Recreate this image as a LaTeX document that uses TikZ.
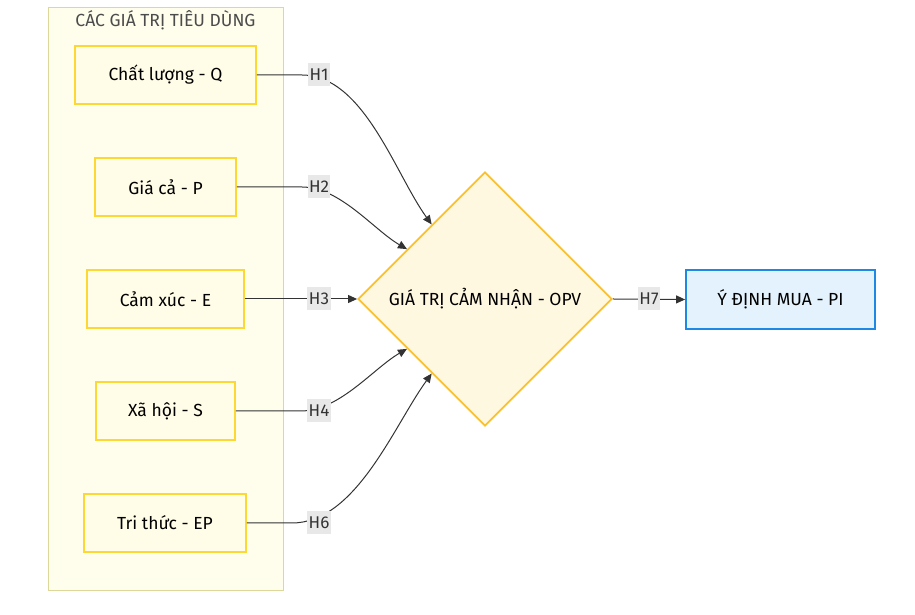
\documentclass[tikz,border=0pt]{standalone}
\usepackage{fontspec}
\setmainfont{Fira Sans}
\usetikzlibrary{arrows.meta,shapes.geometric,calc}
\definecolor{clfill}{HTML}{FFFDEC}
\definecolor{cldraw}{HTML}{DDD89A}
\definecolor{bxfill}{HTML}{FFFDE7}
\definecolor{bxdraw}{HTML}{FDD835}
\definecolor{dmfill}{HTML}{FFF8E1}
\definecolor{dmdraw}{HTML}{FBC02D}
\definecolor{pifill}{HTML}{E3F2FD}
\definecolor{pidraw}{HTML}{1E88E5}
\definecolor{edge}{HTML}{333333}
\definecolor{lblbg}{HTML}{E8E8E8}
\begin{document}
\begin{tikzpicture}[x=1pt,y=1pt,
  font=\fontsize{17.5}{21}\selectfont,
  valbox/.style={draw=bxdraw,fill=bxfill,line width=1.8pt,minimum height=58pt,inner sep=0pt},
  conn/.style={draw=edge,line width=1pt,-{Triangle[length=9pt,width=8pt]}},
  lbl/.style={fill=lblbg,inner xsep=1.5pt,inner ysep=0pt,minimum height=23pt,text=black!80,font=\fontsize{17}{20}\selectfont}]
\useasboundingbox (0,0) rectangle (915,615);
% cluster
\node[draw=cldraw,fill=clfill,line width=1pt,minimum width=235pt,minimum height=583pt,inner sep=0pt] (cl) at (165.5,615-299.5) {};
\node[text=black!70] (title) at (165.5,615-20) {CÁC GIÁ TRỊ TIÊU DÙNG};
% boxes
\node[valbox,minimum width=181pt] (Q) at (165.5,615-75) {Chất lượng - Q};
\node[valbox,minimum width=141pt] (P) at (165.5,615-187) {Giá cả - P};
\node[valbox,minimum width=157pt] (E) at (165.5,615-299) {Cảm xúc - E};
\node[valbox,minimum width=139pt] (S) at (165.5,615-411) {Xã hội - S};
\node[valbox,minimum width=162pt] (EP) at (165,615-523) {Tri thức - EP};
% diamond
\node[diamond,draw=dmdraw,fill=dmfill,line width=1.8pt,minimum width=254pt,minimum height=254pt,inner sep=0pt,aspect=1] (D) at (485,615-299) {GIÁ TRỊ CẢM NHẬN - OPV};
% PI
\node[draw=pidraw,fill=pifill,line width=1.8pt,minimum width=189pt,minimum height=59pt,inner sep=0pt] (PI) at (780.5,615-299.5) {Ý ĐỊNH MUA - PI};
% tips
\coordinate (t1) at ($(D.west)!0.583!(D.north)$);
\coordinate (t2) at ($(D.west)!0.39!(D.north)$);
\coordinate (t4) at ($(D.west)!0.39!(D.south)$);
\coordinate (t6) at ($(D.west)!0.583!(D.south)$);
% edges
\draw[conn] (Q.east) -- ++(45,0) to[out=0,in=126,looseness=0.8] (t1);
\draw[conn] (P.east) -- ++(65,0) to[out=0,in=150,looseness=0.8] (t2);
\draw[conn] (E.east) -- (D.west);
\draw[conn] (S.east) -- ++(65,0) to[out=0,in=210,looseness=0.8] (t4);
\draw[conn] (EP.east) -- ++(45,0) to[out=0,in=234,looseness=0.8] (t6);
\draw[conn] (D.east) -- (PI.west);
% labels
\node[lbl] (h1) at (319,615-75) {H1};
\node[lbl] (h2) at (319,615-187) {H2};
\node[lbl] (h3) at (319,615-299) {H3};
\node[lbl] (h4) at (319,615-411) {H4};
\node[lbl] (h6) at (319,615-523) {H6};
\node[lbl] (h7) at (649,615-299) {H7};
\end{tikzpicture}
\end{document}
